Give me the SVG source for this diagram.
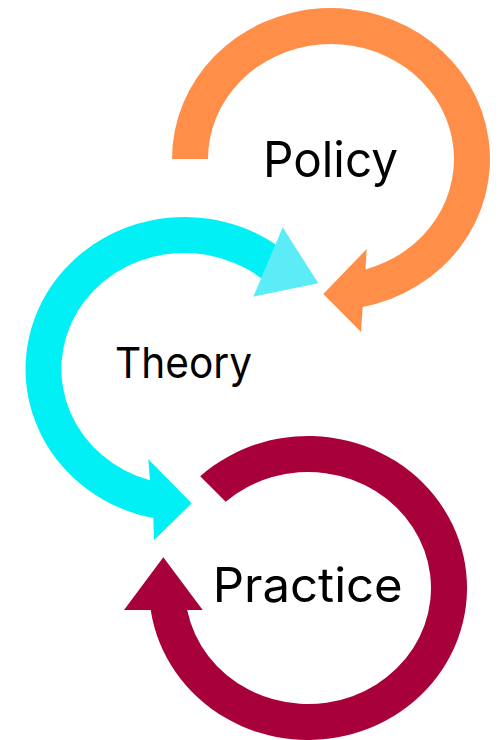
<svg xmlns="http://www.w3.org/2000/svg" width="503" height="740" viewBox="0 0 503 740">
  <style>
    .label { font-family: "Inter", "Liberation Sans", sans-serif; font-weight: 400; fill: #000000; text-anchor: middle; }
    .orange { fill: #FF8E48; }
    .cyan { fill: #00F0F5; }
    .cyan-light { fill: #5BECF8; }
    .maroon { fill: #A8003A; }
  </style>
  <rect width="503" height="740" fill="#FFFFFF"/>
  <g id="policy">
    <path class="orange" d="M172,159 A159,151 0 1 1 362.7,307 L361,332 L323.3,294 L366.7,249 L365.5,269.4 A123,115 0 1 0 208,159 Z"/>
    <text class="label" x="330.5" y="177" font-size="49" textLength="135" lengthAdjust="spacingAndGlyphs">Policy</text>
  </g>
  <g id="theory">
    <path class="cyan" d="M286.7,252.6 A159,152 0 1 0 153.3,518.1 L154,540.3 L191.7,503.3 L148.3,459.3 L150,480.3 A123,116 0 1 1 268.4,284.2 Z"/>
    <polygon class="cyan-light" points="282.7,227.3 318.3,283.3 253.3,296.7"/>
    <text class="label" x="183.5" y="378" font-size="43" textLength="137" lengthAdjust="spacingAndGlyphs">Theory</text>
  </g>
  <g id="practice">
    <path class="maroon" d="M200.2,476.3 A159,152 0 1 1 150.7,610 L124,610 L163.3,557.3 L202.7,610 L187.2,610 A123,116 0 1 0 225.7,501.8 Z"/>
    <text class="label" x="307.7" y="601.5" font-size="48" textLength="190" lengthAdjust="spacingAndGlyphs">Practice</text>
  </g>
  <g id="connectors"></g>
</svg>
